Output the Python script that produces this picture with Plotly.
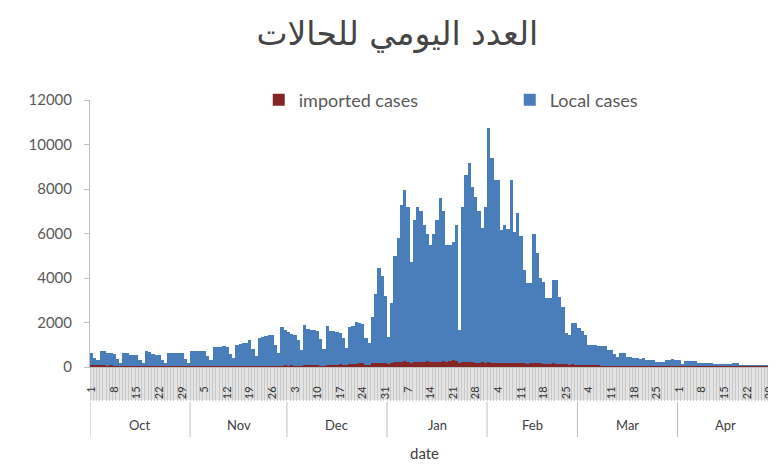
import pandas as pd
import plotly.graph_objects as go

# ---- data (daily, 1 Oct 2021 - 30 Apr 2022) ----
dates = pd.date_range("2021-10-01", "2022-04-30", freq="D")

local_oct = [640, 420, 300, 730, 700, 620, 640, 600, 350, 170, 640, 620, 540, 520, 530, 300,
             170, 730, 680, 580, 560, 520, 330, 200, 640, 650, 640, 630, 650, 380, 170]
local_nov = [720, 740, 730, 720, 700, 480, 300, 880, 900, 920, 950, 900, 600, 400, 1000,
             1050, 1080, 1100, 1200, 800, 500, 1300, 1360, 1400, 1450, 1440, 1000, 650, 1810, 1660]
local_dec = [1580, 1500, 1450, 1200, 750, 1890, 1720, 1660, 1650, 1600, 1250, 800, 1840, 1620,
             1600, 1580, 1550, 1300, 850, 1800, 1850, 2040, 2000, 1950, 1300, 1100, 2260, 3300,
             4450, 4100, 3200]
local_jan = [1370, 2860, 5000, 5800, 7300, 7950, 7200, 4700, 6600, 7200, 7000, 6400, 6000, 5500,
             6000, 6600, 7600, 7000, 5500, 5500, 5600, 6380, 1660, 7200, 8630, 9150, 8100, 7640,
             7000, 6250, 7200]
local_feb = [10740, 9400, 8400, 8400, 6150, 6380, 6200, 8400, 6050, 6900, 5900, 4360, 3770, 3770,
             6000, 5120, 4000, 3800, 3100, 3100, 3900, 3900, 3150, 2700, 1530, 1450, 1980, 1980]
local_mar = [1750, 1600, 1450, 990, 990, 990, 940, 940, 940, 760, 760, 600, 450, 630, 630, 450,
             450, 420, 400, 380, 400, 315, 315, 300, 225, 225, 225, 300, 330, 340, 320]
local_apr = [300, 135, 280, 280, 270, 260, 180, 180, 180, 180, 180, 150, 150, 150, 150, 150, 150,
             200, 200, 100, 100, 100, 100, 100, 100, 100, 100, 100, 100, 100]

imp_oct = [70, 60, 50, 60, 50, 40, 50, 40, 30, 20, 40, 30, 30, 40, 30, 20, 20, 30, 30, 40, 30,
           30, 20, 20, 30, 30, 30, 40, 30, 20, 20]
imp_nov = [30, 30, 40, 30, 30, 20, 20, 30, 40, 30, 30, 40, 20, 20, 30, 40, 30, 40, 30, 20, 20,
           40, 30, 40, 40, 30, 20, 20, 40, 50]
imp_dec = [40, 50, 40, 30, 30, 50, 60, 50, 60, 50, 40, 30, 60, 70, 60, 90, 120, 100, 80, 130,
           150, 120, 180, 160, 110, 100, 170, 200, 180, 190, 160]
imp_jan = [150, 190, 220, 240, 230, 250, 220, 200, 210, 230, 240, 220, 250, 230, 210, 220, 240,
           260, 230, 250, 300, 260, 200, 240, 230, 220, 210, 200, 190, 210, 200]
imp_feb = [210, 200, 190, 200, 180, 170, 190, 200, 180, 170, 180, 160, 150, 170, 180, 160, 170,
           150, 140, 150, 160, 150, 140, 130, 120, 110, 120, 100]
imp_mar = [80, 70, 60, 60, 50, 50, 50, 40, 40, 40, 40, 30, 30, 40, 40, 30, 30, 30, 30, 20, 30,
           30, 30, 20, 20, 20, 20, 30, 20, 20, 20]
imp_apr = [20, 20, 10, 20, 20, 20, 20, 20, 10, 10, 20, 20, 10, 20, 10, 10, 20, 10, 10, 10, 20,
           10, 10, 10, 10, 20, 10, 10, 10, 10]

local_cases = local_oct + local_nov + local_dec + local_jan + local_feb + local_mar + local_apr
imported_cases = imp_oct + imp_nov + imp_dec + imp_jan + imp_feb + imp_mar + imp_apr

month_labels = ["Oct", "Nov", "Dec", "Jan", "Feb", "Mar", "Apr"]
month_starts = ["2021-10-01", "2021-11-01", "2021-12-01", "2022-01-01",
                "2022-02-01", "2022-03-01", "2022-04-01", "2022-05-01"]
y_ticks = [0, 2000, 4000, 6000, 8000, 10000, 12000]

title_text = "العدد اليومي للحالات"

# ---- figure ----
BLUE = "#4A7EBB"
RED = "#852525"
font_fam = "Lato, 'Open Sans', sans-serif"

fig = go.Figure()
fig.add_trace(go.Bar(x=dates, y=local_cases, name="Local cases",
                     marker=dict(color=BLUE, line=dict(width=0))))
fig.add_trace(go.Bar(x=dates, y=imported_cases, name="imported cases",
                     marker=dict(color=RED, line=dict(width=0))))

weekly = dates[::7]
half_day = pd.Timedelta(hours=12)

# page body has an 8px offset, so the figure is drawn 8px smaller
fig.update_layout(
    width=768, height=457,
    margin=dict(l=82, r=0, t=92, b=98),
    paper_bgcolor="white", plot_bgcolor="white",
    barmode="overlay", bargap=0,
    font=dict(family=font_fam, color="#595959"),
    title=dict(text=title_text, x=0.507, xanchor="center", y=0.945, yanchor="middle",
               font=dict(family="DejaVu Sans", size=33, color="#454545")),
    legend=dict(orientation="h", traceorder="reversed", x=0.246, xanchor="left",
                y=1.0, yanchor="middle", font=dict(size=18, color="#595959"),
                entrywidth=206, entrywidthmode="pixels", bgcolor="rgba(0,0,0,0)"),
    showlegend=True,
)

fig.update_yaxes(range=[0, 12000], tickvals=y_ticks, ticktext=[str(v) for v in y_ticks],
                 showgrid=False, zeroline=False, automargin=False,
                 showline=True, linecolor="#bfbfbf", linewidth=1,
                 ticks="outside", ticklen=5, tickcolor="#bfbfbf",
                 tickfont=dict(size=15, color="#595959"), ticklabelstandoff=9)

fig.update_xaxes(type="date", automargin=False,
                 range=[dates[0] - half_day, dates[-1] + 2 * half_day],
                 tickmode="array", tickvals=list(weekly),
                 ticktext=[str(d.day) for d in weekly],
                 tickangle=-90, ticks="", ticklabelstandoff=14,
                 ticklabeloverflow="allow",
                 tickfont=dict(size=11, color="#333333"),
                 showgrid=False, zeroline=False,
                 showline=True, linecolor="#bfbfbf", linewidth=1,
                 minor=dict(tickmode="linear", tick0=dates[0] - half_day, dtick=86400000,
                            ticks="outside", ticklen=33, tickcolor="#c9c9c9", tickwidth=1,
                            showgrid=False))

# gray band behind day labels
fig.add_shape(type="rect", xref="paper", yref="paper", x0=0, x1=1, y0=-33 / 267, y1=0,
              fillcolor="#e3e3e3", line=dict(width=0), layer="below")

# month separators and labels
ms = pd.to_datetime(month_starts)
for b in ms:
    fig.add_shape(type="line", xref="x", yref="paper", x0=b - half_day, x1=b - half_day,
                  y0=-35 / 267, y1=-70 / 267, line=dict(color="#bfbfbf", width=1))
for i, lab in enumerate(month_labels):
    mid = ms[i] + (ms[i + 1] - ms[i]) / 2 - half_day
    fig.add_annotation(x=mid, xref="x", y=-58 / 267, yref="paper", text=lab,
                       showarrow=False, yanchor="middle",
                       font=dict(size=13, color="#404040"))

fig.add_annotation(x=0.488, xref="paper", y=-86 / 267, yref="paper", text="date",
                   showarrow=False, yanchor="middle", font=dict(size=15, color="#404040"))

fig.write_html("out.html")
